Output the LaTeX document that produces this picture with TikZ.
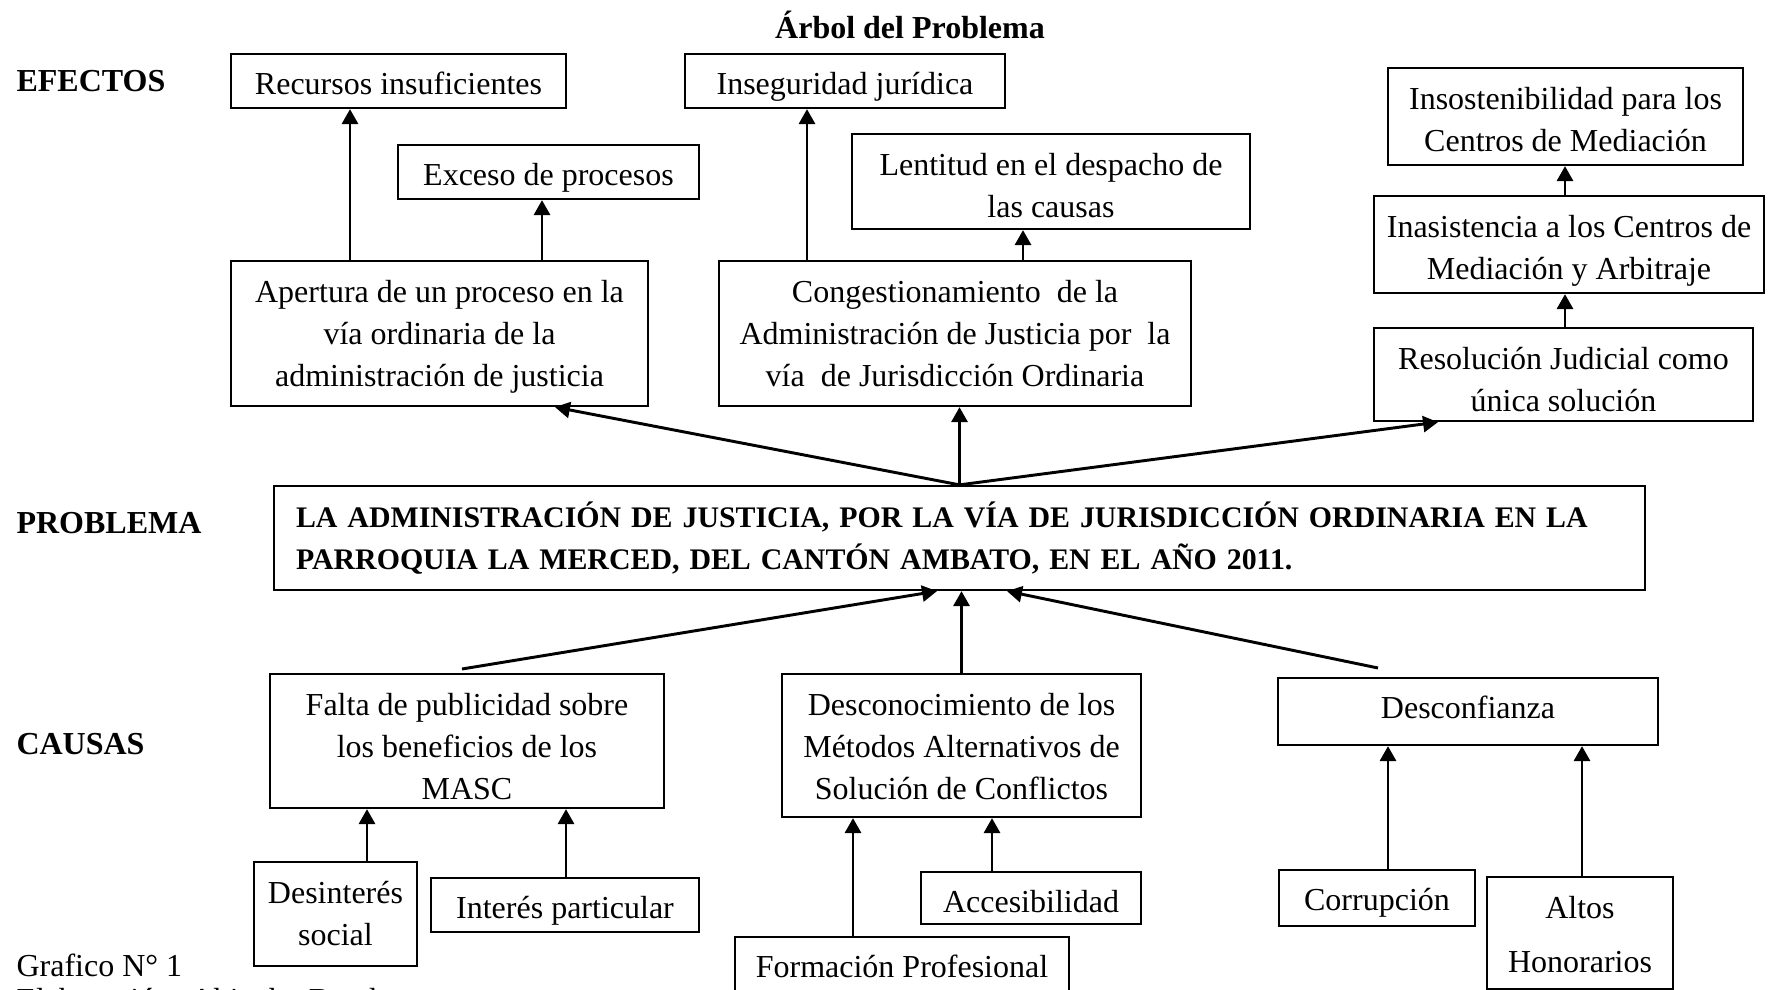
\documentclass[tikz,border=0pt]{standalone}
\usepackage{fontspec}
\setmainfont{Liberation Serif}
\usetikzlibrary{arrows.meta,calc}

\tikzset{
  frame/.style={draw, line width=0.85pt, inner sep=0pt},
  sz/.style 2 args={minimum width=#1*0.375pt, minimum height=#2*0.375pt},
  % box text hangs from the top edge of its frame
  txt/.style={inner sep=0pt, align=center, anchor=north,
    font=\fontsize{12}{15.75}\selectfont,
    execute at begin node={\rule{0pt}{12pt}}},
  oneln/.style={txt, yshift=-3.5625pt},
  multln/.style={txt, yshift=-7.5pt},
  arr/.style={line width=1.1pt, -{Triangle[length=5.6pt,width=6pt]}},
  lbl/.style={font=\bfseries\fontsize{12}{14}\selectfont, anchor=west, inner sep=0pt},
  note/.style={font=\fontsize{12}{14}\selectfont, inner sep=0pt},
}

\begin{document}
\begin{tikzpicture}[x=0.375pt, y=-0.375pt]
\path[use as bounding box] (0,0) rectangle (1787,990);
\clip (0,0) rectangle (1787,990);

% title and row labels
\node[font=\bfseries\fontsize{12}{14}\selectfont, inner sep=0pt] (title) at (910,25) {Árbol del Problema};
\node[lbl] (lefe) at (16,81) {EFECTOS};
\node[lbl] (lpro) at (16,523) {PROBLEMA};
\node[lbl] (lcau) at (16,744) {CAUSAS};

% effect frames
\node[frame, sz={335}{54}] (rec) at (398.5,81) {};
\node[frame, sz={320}{54}] (ins) at (845,81) {};
\node[frame, sz={355}{97}] (isost) at (1565.5,116.5) {};
\node[frame, sz={301}{54}] (exc) at (548.5,172) {};
\node[frame, sz={398}{95}] (len) at (1051,181.5) {};
\node[frame, sz={390}{97}] (inas) at (1569,244.5) {};
\node[frame, sz={417}{145}] (ap) at (439.5,333.5) {};
\node[frame, sz={472}{145}] (cg) at (955,333.5) {};
\node[frame, sz={379}{93}] (res) at (1563.5,374.5) {};

% effect texts
\node[oneln] (recT) at (rec.north) {Recursos insuficientes};
\node[oneln] (insT) at (ins.north) {Inseguridad jurídica};
\node[multln] (isostT) at (isost.north) {Insostenibilidad para los\\Centros de Mediación};
\node[oneln] (excT) at (exc.north) {Exceso de procesos};
\node[multln] (lenT) at (len.north) {Lentitud en el despacho de\\las causas};
\node[multln] (inasT) at (inas.north) {Inasistencia a los Centros de\\Mediación y Arbitraje};
\node[multln] (apT) at (ap.north) {Apertura de un proceso en la\\vía ordinaria de la\\administración de justicia};
\node[multln] (cgT) at (cg.north) {Congestionamiento\ \ de la\\Administración de Justicia por\ \ la\\vía\ \ de Jurisdicción Ordinaria};
\node[multln] (resT) at (res.north) {Resolución Judicial como\\única solución};

% central problem
\node[frame, sz={1371}{104}, text width=497.6pt, align=left,
  font=\bfseries\fontsize{11.2}{15.75}\selectfont] (prob) at (959.5,538)
  {\makebox[497.6pt][s]{LA ADMINISTRACIÓN DE JUSTICIA, POR LA VÍA DE JURISDICCIÓN ORDINARIA EN LA}\\
   PARROQUIA LA MERCED, DEL CANTÓN AMBATO, EN EL AÑO 2011.};

% cause frames
\node[frame, sz={394}{134}] (fa) at (467,741) {};
\node[frame, sz={359}{143}] (de) at (961.5,745.5) {};
\node[frame, sz={380}{67}] (dc) at (1468,711.5) {};
\node[frame, sz={163}{104}] (dsi) at (335.5,914) {};
\node[frame, sz={268}{54}] (ip) at (565,905) {};
\node[frame, sz={220}{52}] (acc) at (1031,898) {};
\node[frame, sz={334}{80}] (fp) at (902,977) {};
\node[frame, sz={196}{56}] (cor) at (1377,898) {};
\node[frame, sz={186}{112}] (alt) at (1580,933) {};

% cause texts
\node[multln] (faT) at (fa.north) {Falta de publicidad sobre\\los beneficios de los\\MASC};
\node[multln] (deT) at (de.north) {Desconocimiento de los\\Métodos Alternativos de\\Solución de Conflictos};
\node[oneln] (dcT) at (dc.north) {Desconfianza};
\node[multln] (dsiT) at (dsi.north) {Desinterés\\social};
\node[oneln] (ipT) at (ip.north) {Interés particular};
\node[oneln] (accT) at (acc.north) {Accesibilidad};
\node[oneln] (fpT) at (fp.north) {Formación Profesional};
\node[oneln] (corT) at (cor.north) {Corrupción};
\node[multln, font=\fontsize{12}{20.25}\selectfont] (altT) at (alt.north) {Altos\\Honorarios};

% footnote
\node[note, anchor=west] (graf) at (16,965) {Grafico N° 1};
\node[note, anchor=base west] (elab) at (16,1010) {Elaboración: Abigahy Barahona};

% connectors between effects
\draw[arr] (ap.north -| 350,0) -- (rec.south -| 350,0);
\draw[arr] (ap.north -| 542,0) -- (exc.south -| 542,0);
\draw[arr] (cg.north -| 807,0) -- (ins.south -| 807,0);
\draw[arr] (cg.north -| 1023,0) -- (len.south -| 1023,0);
\draw[arr] (res.north -| 1565,0) -- (inas.south -| 1565,0);
\draw[arr] (inas.north -| 1565,0) -- (isost.south -| 1565,0);

% problem to its direct effects
\draw[arr] (prob.north) -- (ap.south -| 555,0);
\draw[arr] (prob.north) -- (prob.north |- cg.south);
\draw[arr] (prob.north) -- (res.south -| 1438,0);

% causes to problem
\coordinate (faTop) at (462,669);
\coordinate (dcTop) at (1378,668);
\draw[arr] (faTop) -- (prob.south -| 937,0);
\draw[arr] (de.north) -- (de.north |- prob.south);
\draw[arr] (dcTop) -- (prob.south -| 1007,0);

% sub-causes
\draw[arr] (dsi.north -| 367,0) -- (fa.south -| 367,0);
\draw[arr] (ip.north -| 566,0) -- (fa.south -| 566,0);
\draw[arr] (fp.north -| 853,0) -- (de.south -| 853,0);
\draw[arr] (acc.north -| 992,0) -- (de.south -| 992,0);
\draw[arr] (cor.north -| 1388,0) -- (dc.south -| 1388,0);
\draw[arr] (alt.north -| 1582,0) -- (dc.south -| 1582,0);
\end{tikzpicture}
\end{document}
